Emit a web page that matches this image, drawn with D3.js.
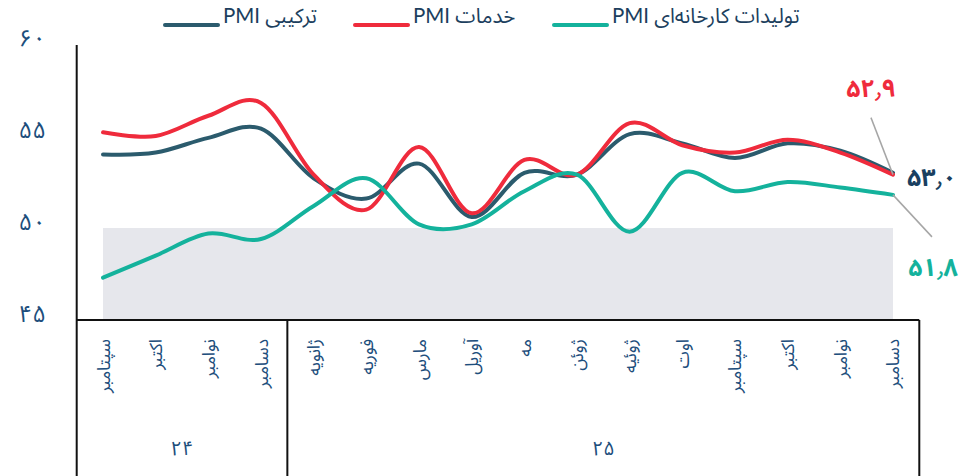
<!DOCTYPE html>
<html>
<head>
<meta charset="utf-8">
<script src="https://cdn.jsdelivr.net/npm/d3@7/dist/d3.min.js"></script>
<style>
  html, body { margin: 0; padding: 0; background: #ffffff; }
  svg { display: block; }
  text { font-family: Lato, "Noto Sans Arabic", "DejaVu Sans", sans-serif; }
</style>
</head>
<body>
<svg id="chart" width="972" height="476"></svg>
<script>
// Monthly PMI readings, Sep 2024 – Dec 2025
const months = ["سپتامبر", "اکتبر", "نوامبر", "دسامبر",
  "ژانویه", "فوریه", "مارس", "آوریل", "مه", "ژوئن", "ژوئیه", "اوت",
  "سپتامبر", "اکتبر", "نوامبر", "دسامبر"];
const years = [{ label: "۲۴", from: 0, to: 3 }, { label: "۲۵", from: 4, to: 15 }];

const composite = [54.0, 54.1, 54.9, 55.4, 52.7, 51.6, 53.5, 50.6, 53.0, 52.9, 55.1, 54.6, 53.8, 54.6, 54.2, 53.0];
const services = [55.2, 55.0, 56.1, 56.8, 52.9, 51.0, 54.4, 50.8, 53.7, 52.9, 55.7, 54.5, 54.1, 54.8, 54.1, 52.9];
const manufacturing = [47.3, 48.5, 49.7, 49.4, 51.2, 52.7, 50.2, 50.2, 52.0, 52.9, 49.8, 53.0, 52.0, 52.5, 52.2, 51.8];

const yTicks = [45, 50, 55, 60];
const bandRange = [45, 50];

const legendItems = [
  { name: "PMI ترکیبی", color: "#2b5b6d" },
  { name: "PMI خدمات", color: "#ef2b3c" },
  { name: "PMI تولیدات کارخانه‌ای", color: "#14b29c" }
];

const svg = d3.select("#chart");
const plotLeft = 76.7, plotRight = 919.3, plotTop = 44, plotBottom = 320;

const x = d3.scaleBand().domain(d3.range(months.length)).range([plotLeft, plotRight]).padding(0);
const xc = i => x(i) + x.bandwidth() / 2;
const y = d3.scaleLinear().domain([45, 60]).range([plotBottom, plotTop]);

const faDigits = s => String(s).replace(/[0-9]/g, d => "۰۱۲۳۴۵۶۷۸۹"[d]).replace(".", "٫");
const fmt = v => faDigits(d3.format(".1f")(v));

// shaded region under 50
svg.append("rect")
  .attr("x", xc(0)).attr("width", xc(months.length - 1) - xc(0))
  .attr("y", y(bandRange[1])).attr("height", y(bandRange[0]) - y(bandRange[1]))
  .attr("fill", "#e6e7ec");

// y tick labels
svg.append("g").selectAll("text").data(yTicks).join("text")
  .attr("x", 46).attr("y", d => y(d) - 8)
  .attr("text-anchor", "end").attr("dominant-baseline", "central")
  .attr("font-size", 24).attr("fill", "#1d4e7c")
  .text(d => faDigits(d));

// axes frame
const axisColor = "#111";
svg.append("line").attr("x1", plotLeft).attr("x2", plotLeft).attr("y1", 45).attr("y2", 476)
  .attr("stroke", axisColor).attr("stroke-width", 2);
svg.append("line").attr("x1", plotLeft).attr("x2", plotRight).attr("y1", plotBottom).attr("y2", plotBottom)
  .attr("stroke", axisColor).attr("stroke-width", 2);
[x(4), plotRight].forEach(px => {
  svg.append("line").attr("x1", px).attr("x2", px).attr("y1", plotBottom).attr("y2", 476)
    .attr("stroke", axisColor).attr("stroke-width", 2);
});

// month labels, rotated
svg.append("g").selectAll("text").data(months).join("text")
  .attr("transform", (d, i) => `translate(${xc(i)},339) rotate(-90)`)
  .attr("text-anchor", "end").attr("dominant-baseline", "central")
  .attr("font-size", 17.5).attr("fill", "#1d4e7c")
  .text(d => d);

// year labels
svg.append("g").selectAll("text").data(years).join("text")
  .attr("x", d => (x(d.from) + x(d.to) + x.bandwidth()) / 2)
  .attr("y", 447).attr("text-anchor", "middle").attr("dominant-baseline", "central")
  .attr("font-size", 20).attr("fill", "#1d4e7c")
  .text(d => d.label);

// series lines
const line = d3.line().x((d, i) => xc(i)).y(d => y(d)).curve(d3.curveCardinal.tension(0));
const series = [
  { values: composite, color: legendItems[0].color },
  { values: services, color: legendItems[1].color },
  { values: manufacturing, color: legendItems[2].color }
];
svg.append("g").selectAll("path").data(series).join("path")
  .attr("d", d => line(d.values))
  .attr("fill", "none").attr("stroke", d => d.color)
  .attr("stroke-width", 4).attr("stroke-linecap", "round");

// end-value labels with leader lines
const last = months.length - 1;
const lx = xc(last);
svg.append("line").attr("x1", lx).attr("y1", y(services[last])).attr("x2", lx - 22).attr("y2", y(services[last]) - 57)
  .attr("stroke", "#a6a6a6").attr("stroke-width", 1.5);
svg.append("line").attr("x1", lx).attr("y1", y(manufacturing[last])).attr("x2", lx + 39).attr("y2", y(manufacturing[last]) + 42)
  .attr("stroke", "#a6a6a6").attr("stroke-width", 1.5);

svg.append("text").attr("x", lx - 22).attr("y", y(services[last]) - 88)
  .attr("text-anchor", "middle").attr("dominant-baseline", "central")
  .attr("font-size", 25).attr("font-weight", "bold").attr("fill", "#ef2b3c")
  .text(fmt(services[last]));
svg.append("text").attr("x", lx + 14).attr("y", y(composite[last]) + 3)
  .attr("text-anchor", "start").attr("dominant-baseline", "central")
  .attr("font-size", 25).attr("font-weight", "bold").attr("fill", "#1a3f60")
  .text(fmt(composite[last]));
svg.append("text").attr("x", lx + 40).attr("y", y(manufacturing[last]) + 71)
  .attr("text-anchor", "middle").attr("dominant-baseline", "central")
  .attr("font-size", 25).attr("font-weight", "bold").attr("fill", "#14b29c")
  .text(fmt(manufacturing[last]));

// legend
const legendX = [165, 355, 554];
const lg = svg.append("g").selectAll("g").data(legendItems).join("g")
  .attr("transform", (d, i) => `translate(${legendX[i]},0)`);
lg.append("line").attr("x1", 0).attr("x2", 53).attr("y1", 25).attr("y2", 25)
  .attr("stroke", d => d.color).attr("stroke-width", 4).attr("stroke-linecap", "round");
lg.append("text").attr("x", 58).attr("y", 15).attr("dominant-baseline", "central")
  .attr("font-size", 20.5).attr("fill", "#1c3f5e")
  .text(d => d.name);
</script>
</body>
</html>
